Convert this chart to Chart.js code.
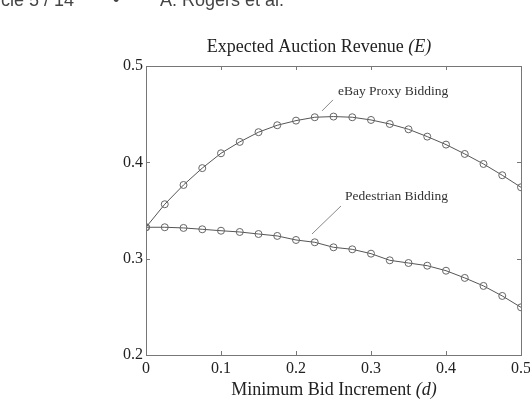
<!DOCTYPE html>
<html><head><meta charset="utf-8">
<script src="https://cdn.jsdelivr.net/npm/chart.js@4/dist/chart.umd.min.js"></script>
<style>html,body{margin:0;padding:0;background:#fff;}#wrap{width:530px;height:402px;position:relative;}</style>
</head><body><div id="wrap"><canvas id="c" width="530" height="402"></canvas></div>
<script>
const increments = [0,0.025,0.05,0.075,0.1,0.125,0.15,0.175,0.2,0.225,0.25,0.275,0.3,0.325,0.35,0.375,0.4,0.425,0.45,0.475,0.5];
const ebayRevenue = [0.3326,0.3565,0.3765,0.394,0.4094,0.4212,0.4313,0.4385,0.4433,0.4468,0.4475,0.4468,0.444,0.4398,0.4343,0.4267,0.4184,0.4087,0.3983,0.3866,0.3741];
const pedestrianRevenue = [0.3326,0.3326,0.3319,0.3305,0.329,0.3277,0.3256,0.3236,0.3194,0.317,0.3118,0.3097,0.3052,0.2983,0.2955,0.2927,0.2875,0.28,0.2717,0.2613,0.2495];
const xTicks = [0,0.1,0.2,0.3,0.4,0.5];
const yTicks = [0.2,0.3,0.4,0.5];
const annotLabels = ["eBay Proxy Bidding","Pedestrian Bidding"];
const annotTextAt = [[0.2560,0.4731],[0.2653,0.3641]];
const annotLineFrom = [[0.2493,0.4648],[0.26,0.3547]];
const annotLineTo = [[0.2347,0.4534],[0.2213,0.3256]];

const serif = '"Liberation Serif","Times New Roman",serif';
const toPts = ys => increments.map((x,i)=>({x:x,y:ys[i]}));

const decor = {
  id:'decor',
  afterDraw(chart){
    const ctx = chart.ctx, a = chart.chartArea, xs = chart.scales.x, ys = chart.scales.y;
    ctx.save();
    ctx.strokeStyle = '#777'; ctx.lineWidth = 1;
    ctx.strokeRect(Math.round(a.left)+0.5, Math.round(a.top)+0.5, Math.round(a.right-a.left), Math.round(a.bottom-a.top));
    ctx.beginPath();
    xTicks.slice(1,-1).forEach(v=>{const p=Math.round(xs.getPixelForValue(v))+0.5;
      ctx.moveTo(p,a.bottom); ctx.lineTo(p,a.bottom-4); ctx.moveTo(p,a.top); ctx.lineTo(p,a.top+4);});
    yTicks.slice(1,-1).forEach(v=>{const p=Math.round(ys.getPixelForValue(v))+0.5;
      ctx.moveTo(a.left,p); ctx.lineTo(a.left+4,p); ctx.moveTo(a.right,p); ctx.lineTo(a.right-4,p);});
    ctx.stroke();
    ctx.strokeStyle = '#888';
    ctx.beginPath();
    for(let i=0;i<annotLabels.length;i++){
      ctx.moveTo(xs.getPixelForValue(annotLineFrom[i][0]), ys.getPixelForValue(annotLineFrom[i][1]));
      ctx.lineTo(xs.getPixelForValue(annotLineTo[i][0]), ys.getPixelForValue(annotLineTo[i][1]));
    }
    ctx.stroke();
    ctx.fillStyle = '#333'; ctx.font = '13.5px '+serif; ctx.textBaseline='middle'; ctx.textAlign='left';
    for(let i=0;i<annotLabels.length;i++){
      ctx.fillText(annotLabels[i], xs.getPixelForValue(annotTextAt[i][0]), ys.getPixelForValue(annotTextAt[i][1]));
    }
    const drawMixed = (parts, cx, cy, size) => {
      let w = 0;
      parts.forEach(p=>{ctx.font=(p[1]?'italic ':'')+size+'px '+serif; w+=ctx.measureText(p[0]).width;});
      let x = cx - w/2;
      parts.forEach(p=>{ctx.font=(p[1]?'italic ':'')+size+'px '+serif; ctx.fillText(p[0],x,cy); x+=ctx.measureText(p[0]).width;});
    };
    ctx.fillStyle = '#222';
    drawMixed([["Expected Auction Revenue ",false],["(E)",true]], 319, 47, 18);
    drawMixed([["Minimum Bid Increment ",false],["(d)",true]], 334, 390, 18);
    ctx.fillStyle = '#444'; ctx.font = '18px "Liberation Sans",Arial,sans-serif'; ctx.textBaseline='alphabetic';
    const pre = ctx.measureText('Arti').width;
    ctx.fillText('Article 5 / 14', -pre+1, 6);
    ctx.fillText('\u2022', 113, 6);
    ctx.fillText('A. Rogers et al.', 160, 6);
    ctx.restore();
  }
};

new Chart(document.getElementById('c'), {
  type:'scatter',
  data:{datasets:[
    {label:'eBay Proxy Bidding', data:toPts(ebayRevenue), showLine:true, borderColor:'#555', borderWidth:1,
     pointRadius:3.5, pointBorderColor:'#666', pointBackgroundColor:'rgba(0,0,0,0)', pointBorderWidth:1},
    {label:'Pedestrian Bidding', data:toPts(pedestrianRevenue), showLine:true, borderColor:'#555', borderWidth:1,
     pointRadius:3.5, pointBorderColor:'#666', pointBackgroundColor:'rgba(0,0,0,0)', pointBorderWidth:1}
  ]},
  options:{
    responsive:false, animation:false, devicePixelRatio:1,
    layout:{padding:{left:0,top:66,right:9,bottom:0}},
    plugins:{legend:{display:false}, tooltip:{enabled:false}, title:{display:false}},
    scales:{
      x:{type:'linear', min:0, max:0.5,
         afterBuildTicks(s){s.ticks = xTicks.map(v=>({value:v}));},
         afterFit(s){s.height=47; s.paddingLeft=0; s.paddingRight=0;},
         grid:{display:false, drawTicks:false}, border:{display:false},
         ticks:{padding:4, color:'#222', font:{family:serif,size:16}, maxRotation:0, autoSkip:false,
                callback:v=>String(v)}},
      y:{type:'linear', min:0.2, max:0.5,
         afterBuildTicks(s){s.ticks = yTicks.map(v=>({value:v}));},
         afterFit(s){s.width=146; s.paddingTop=0; s.paddingBottom=0;},
         grid:{display:false, drawTicks:false}, border:{display:false},
         ticks:{padding:3, color:'#222', font:{family:serif,size:16}, autoSkip:false,
                callback:v=>String(v)}}
    }
  },
  plugins:[decor]
});
</script></body></html>
